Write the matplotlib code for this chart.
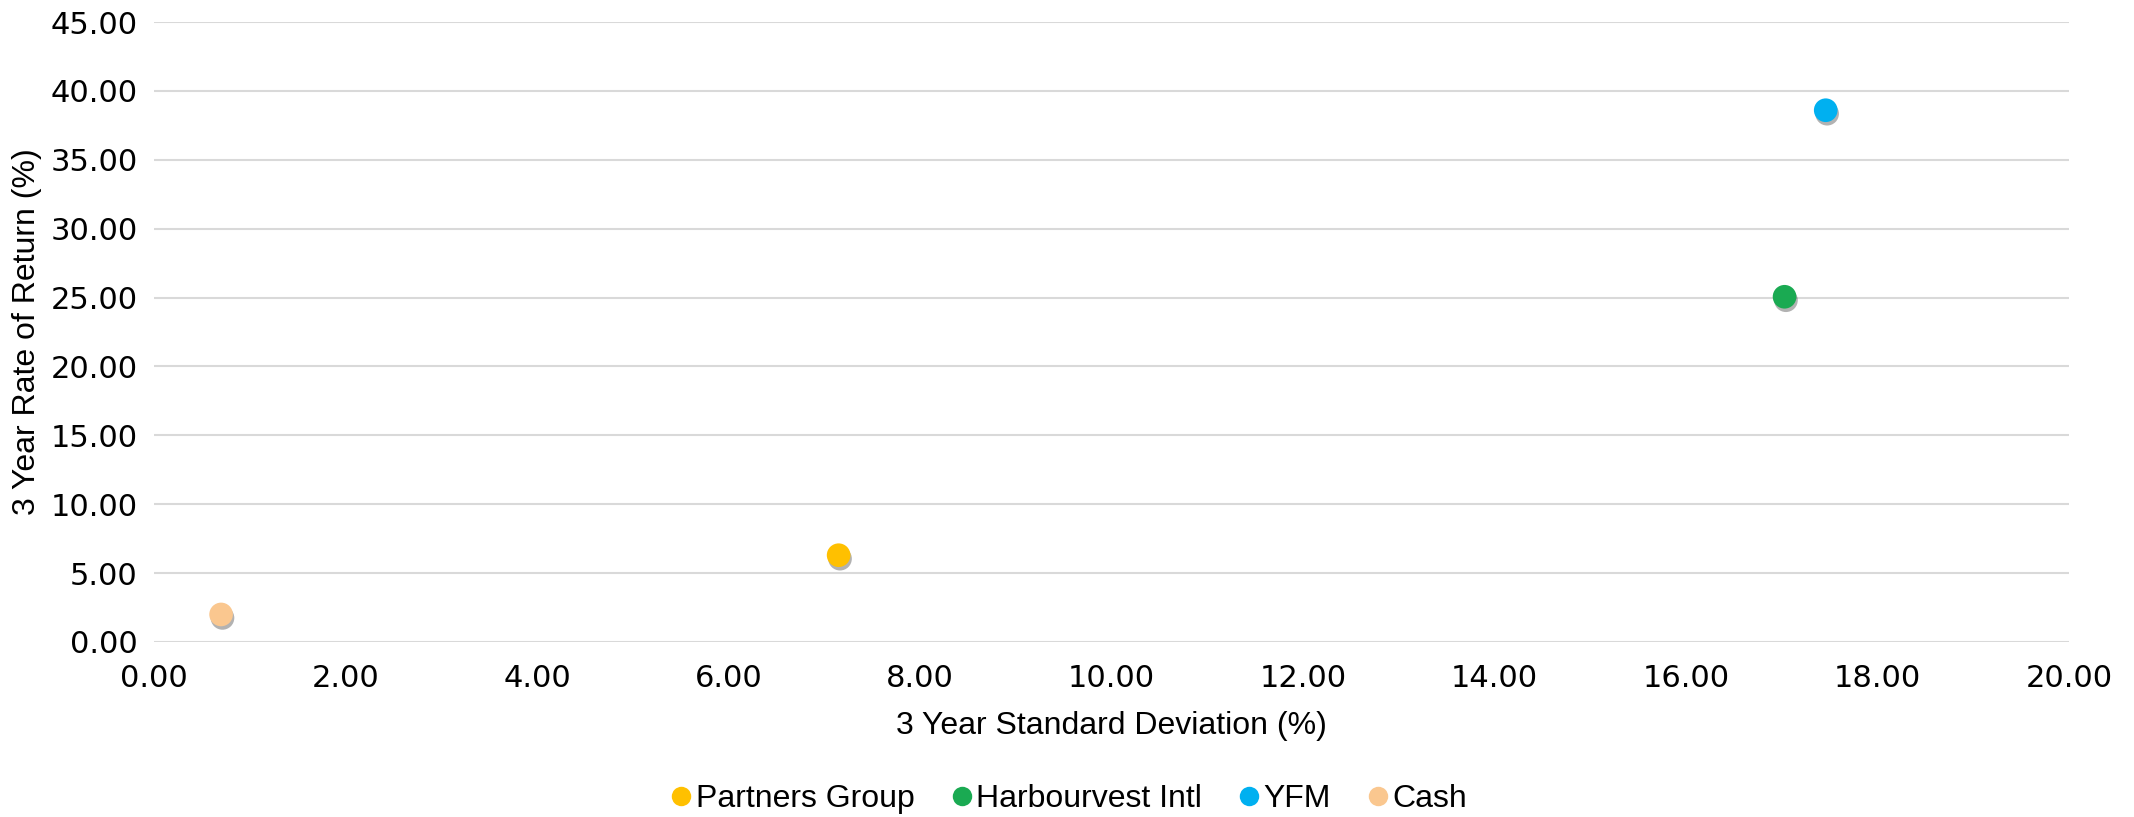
import matplotlib
matplotlib.use('Agg')
import matplotlib.pyplot as plt
import matplotlib.patheffects as pe
from matplotlib.lines import Line2D

# data
names = ['Partners Group', 'Harbourvest Intl', 'YFM', 'Cash']
std_dev = [7.15, 17.03, 17.46, 0.70]
returns = [6.3, 25.06, 38.6, 2.0]
colors = ['#FFC000', '#1AAA52', '#00B0F0', '#FAC78F']

xticks = [0, 2, 4, 6, 8, 10, 12, 14, 16, 18, 20]
yticks = [0, 5, 10, 15, 20, 25, 30, 35, 40, 45]

label_font = ['Liberation Sans Narrow', 'Liberation Sans', 'DejaVu Sans']

fig = plt.figure(figsize=(21.34, 8.17), dpi=100)
ax = fig.add_axes([0.0722, 0.2142, 0.8973, 0.7588])

shadow = [pe.SimplePatchShadow(offset=(1, -2.5), shadow_rgbFace='#000000', alpha=0.3),
          pe.Normal()]
for n, x, y, c in zip(names, std_dev, returns, colors):
    ax.scatter([x], [y], s=290, color=c, label=n, zorder=3, linewidths=0,
               path_effects=shadow)

ax.set_xlim(0, 20)
ax.set_ylim(0, 45)
ax.set_xticks(xticks)
ax.set_yticks(yticks)
ax.set_xticklabels([f'{v:.2f}' for v in xticks])
ax.set_yticklabels([f'{v:.2f}' for v in yticks])
ax.tick_params(axis='both', length=0, labelsize=22, colors='#000000')
ax.tick_params(axis='x', pad=16)
ax.tick_params(axis='y', pad=12)
ax.yaxis.grid(True, color='#D9D9D9', linewidth=1.5)
ax.set_axisbelow(True)
for s in ax.spines.values():
    s.set_visible(False)

ax.set_xlabel('3 Year Standard Deviation (%)', fontsize=23, family=label_font, labelpad=13)
ax.set_ylabel('3 Year Rate of Return (%)', fontsize=23, family=label_font)
ax.yaxis.set_label_coords(-0.0585, 0.5)

handles = [Line2D([], [], marker='o', linestyle='', markersize=14, markerfacecolor=c,
                  markeredgewidth=0) for c in colors]
fig.legend(handles, names, loc='center', bbox_to_anchor=(0.5, 0.022), ncol=4,
           frameon=False, handletextpad=0.0, columnspacing=1.03, handlelength=0.9,
           prop={'family': label_font, 'size': 23})

fig.savefig('out.png', dpi=100)
